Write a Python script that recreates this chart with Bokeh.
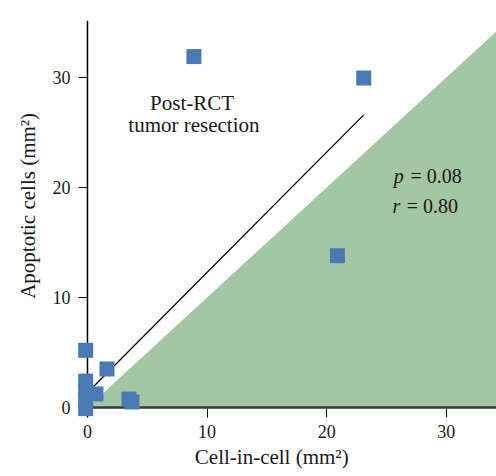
from bokeh.plotting import figure
from bokeh.models import FixedTicker, Label, Range1d, Span
from bokeh.embed import file_html
from bokeh.resources import INLINE

# data
cell_in_cell = [8.9, 23.1, 20.9, -0.15, 1.63, 0.71, 3.47, 3.72, -0.15, -0.15, -0.15, -0.15]
apoptotic = [31.9, 29.95, 13.8, 5.2, 3.5, 1.23, 0.77, 0.5, 2.4, 1.5, 0.7, -0.1]
fit_x = [-0.15, 23.1]
fit_y = [1.18, 26.6]
region_x = [0, 40, 40]
region_y = [0, 0, 40]
ticks = [0, 10, 20, 30]

FONT = "Liberation Serif"
NB = "\u00a0"

p = figure(width=496, height=476, output_backend="svg", toolbar_location=None,
           x_range=Range1d(-0.75, 34.2), y_range=Range1d(-0.91, 35.18),
           min_border_left=78, min_border_right=0, min_border_top=20, min_border_bottom=59)
p.outline_line_color = None
p.grid.visible = False
p.background_fill_color = "white"
p.border_fill_color = "white"

p.patch(region_x, region_y, fill_color="#a3c6a3", line_color=None)
p.line(fit_x, fit_y, line_color="black", line_width=1.3)

# axis lines at the data origin
p.add_layout(Span(location=0, dimension="height", line_color="black", line_width=1.5))
p.add_layout(Span(location=0, dimension="width", line_color="#3a3a3a", line_width=2.5))

sc = p.scatter(cell_in_cell, apoptotic, marker="square", size=15,
               fill_color="#4a7ab5", line_color=None)
sc.level = "overlay"

for ax in (p.xaxis[0], p.yaxis[0]):
    ax.ticker = FixedTicker(ticks=ticks)
    ax.axis_line_color = None
    ax.minor_tick_line_color = None
    ax.major_tick_in = 9
    ax.major_tick_out = 0
    ax.major_tick_line_color = "black"
    ax.major_tick_line_width = 1
    ax.major_label_text_font = FONT
    ax.major_label_text_font_size = "18px"
    ax.major_label_text_color = "#1a1a1a"
    ax.axis_label_text_font = FONT
    ax.axis_label_text_font_size = "21px"
    ax.axis_label_text_font_style = "normal"
    ax.axis_label_text_color = "#1a1a1a"

p.xaxis.axis_label = "Cell-in-cell (mm²)" + NB * 6
p.yaxis.axis_label = NB * 5 + "Apoptotic cells (mm²)"
p.xaxis.major_label_standoff = 7
p.xaxis.axis_label_standoff = 4
p.yaxis.major_label_standoff = 8
p.yaxis.axis_label_standoff = 10

def lab(x, y, t, size="20px", style="normal", align="left"):
    p.add_layout(Label(x=x, y=y, text=t, text_font=FONT, text_font_size=size,
                       text_font_style=style, text_align=align, text_baseline="alphabetic",
                       text_color="#1a1a1a"))

lab(8.75, 27.65, "Post-RCT", size="21px", align="center")
lab(8.9, 25.65, "tumor resection", size="21px", align="center")
lab(25.6, 21.0, "p", style="italic")
lab(27.0, 21.0, "= 0.08")
lab(25.5, 18.35, "r", style="italic")
lab(26.7, 18.35, "= 0.80")

open("out.html", "w").write(file_html(p, INLINE))
